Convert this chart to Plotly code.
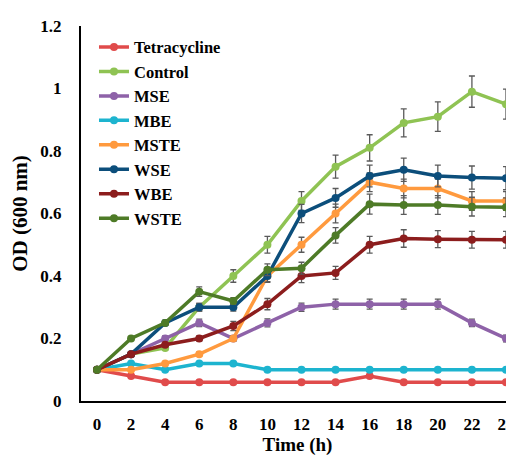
import plotly.graph_objects as go

time_h = [0, 2, 4, 6, 8, 10, 12, 14, 16, 18, 20, 22, 24]

series_names = ["Tetracycline", "Control", "MSE", "MBE", "MSTE", "WSE", "WBE", "WSTE"]

tetracycline = [0.10, 0.08, 0.06, 0.06, 0.06, 0.06, 0.06, 0.06, 0.08, 0.06, 0.06, 0.06, 0.06]
control      = [0.10, 0.15, 0.17, 0.30, 0.40, 0.50, 0.64, 0.75, 0.81, 0.89, 0.91, 0.99, 0.95]
mse          = [0.10, 0.15, 0.20, 0.25, 0.20, 0.25, 0.30, 0.31, 0.31, 0.31, 0.31, 0.25, 0.20]
mbe          = [0.10, 0.12, 0.10, 0.12, 0.12, 0.10, 0.10, 0.10, 0.10, 0.10, 0.10, 0.10, 0.10]
mste         = [0.10, 0.10, 0.12, 0.15, 0.20, 0.40, 0.50, 0.60, 0.70, 0.68, 0.68, 0.64, 0.64]
wse          = [0.10, 0.15, 0.25, 0.30, 0.30, 0.40, 0.60, 0.65, 0.72, 0.74, 0.72, 0.715, 0.713]
wbe          = [0.10, 0.15, 0.18, 0.20, 0.24, 0.31, 0.40, 0.41, 0.50, 0.52, 0.518, 0.516, 0.516]
wste         = [0.10, 0.20, 0.25, 0.35, 0.32, 0.42, 0.425, 0.53, 0.63, 0.627, 0.627, 0.622, 0.62]

err_tetracycline = [0] * 13
err_control = [0, 0.005, 0.008, 0.012, 0.02, 0.027, 0.03, 0.037, 0.042, 0.045, 0.047, 0.05, 0.048]
err_mse = [0, 0.005, 0.008, 0.012, 0.008, 0.013, 0.013, 0.016, 0.016, 0.016, 0.016, 0.012, 0.011]
err_mbe = [0] * 13
err_mste = [0, 0.003, 0.005, 0.006, 0.008, 0.018, 0.024, 0.03, 0.03, 0.03, 0.03, 0.03, 0.03]
err_wse = [0, 0.005, 0.008, 0.012, 0.012, 0.02, 0.029, 0.03, 0.035, 0.037, 0.035, 0.037, 0.037]
err_wbe = [0, 0.005, 0.006, 0.008, 0.015, 0.018, 0.021, 0.021, 0.027, 0.028, 0.027, 0.027, 0.027]
err_wste = [0, 0.005, 0.008, 0.015, 0.011, 0.019, 0.019, 0.025, 0.032, 0.03, 0.03, 0.03, 0.03]

colors = ["#E04B4B", "#8FC353", "#8E62A8", "#1DB4CF", "#FF9A3E", "#0C4E7B", "#8C1D1D", "#4E7B27"]

values = [tetracycline, control, mse, mbe, mste, wse, wbe, wste]
errors = [err_tetracycline, err_control, err_mse, err_mbe, err_mste, err_wse, err_wbe, err_wste]
show_err = [False, True, True, False, True, True, True, True]

font_family = "Liberation Serif"

fig = go.Figure()
for name, vals, errs, col, se in zip(series_names, values, errors, colors, show_err):
    fig.add_trace(go.Scatter(
        x=time_h, y=vals, name=name, mode="lines+markers",
        line=dict(color=col, width=3.5),
        marker=dict(color=col, size=8),
        error_y=dict(type="data", array=errs, visible=se, color="#5a5a5a", thickness=1.3, width=3),
        cliponaxis=False,
    ))

fig.update_layout(
    width=506, height=448,
    margin=dict(l=73, r=0, t=18, b=55),
    paper_bgcolor="white", plot_bgcolor="white",
    font=dict(family=font_family, color="black", size=17, weight="bold"),
    showlegend=True,
    legend=dict(
        x=0.03, y=0.99, xanchor="left", yanchor="top",
        font=dict(family=font_family, size=16.5, color="black", weight="bold"),
        bgcolor="rgba(0,0,0,0)", itemwidth=30, tracegroupgap=0,
    ),
    xaxis=dict(
        range=[-0.939, 24.47], automargin=False,
        tickmode="array", tickvals=time_h, ticktext=[str(t) for t in time_h],
        ticklabeloverflow="allow",
        showgrid=False, zeroline=False,
        showline=True, linecolor="black", linewidth=2,
        ticks="", ticklabelstandoff=7,
        tickfont=dict(family=font_family, size=17, color="black", weight="bold"),
        title=dict(text="Time (h)", standoff=18,
                   font=dict(family=font_family, size=19, color="black", weight="bold")),
    ),
    yaxis=dict(
        range=[0, 1.2], automargin=False,
        tickmode="array", tickvals=[0, 0.2, 0.4, 0.6, 0.8, 1.0, 1.2],
        ticktext=["0", "0.2", "0.4", "0.6", "0.8", "1", "1.2"],
        showgrid=False, zeroline=False,
        showline=True, linecolor="black", linewidth=2,
        ticks="", ticklabelstandoff=14,
        tickfont=dict(family=font_family, size=17, color="black", weight="bold"),
        title=dict(text="OD (600 nm)", standoff=12,
                   font=dict(family=font_family, size=21, color="black", weight="bold")),
    ),
)

fig.write_html("out.html")
